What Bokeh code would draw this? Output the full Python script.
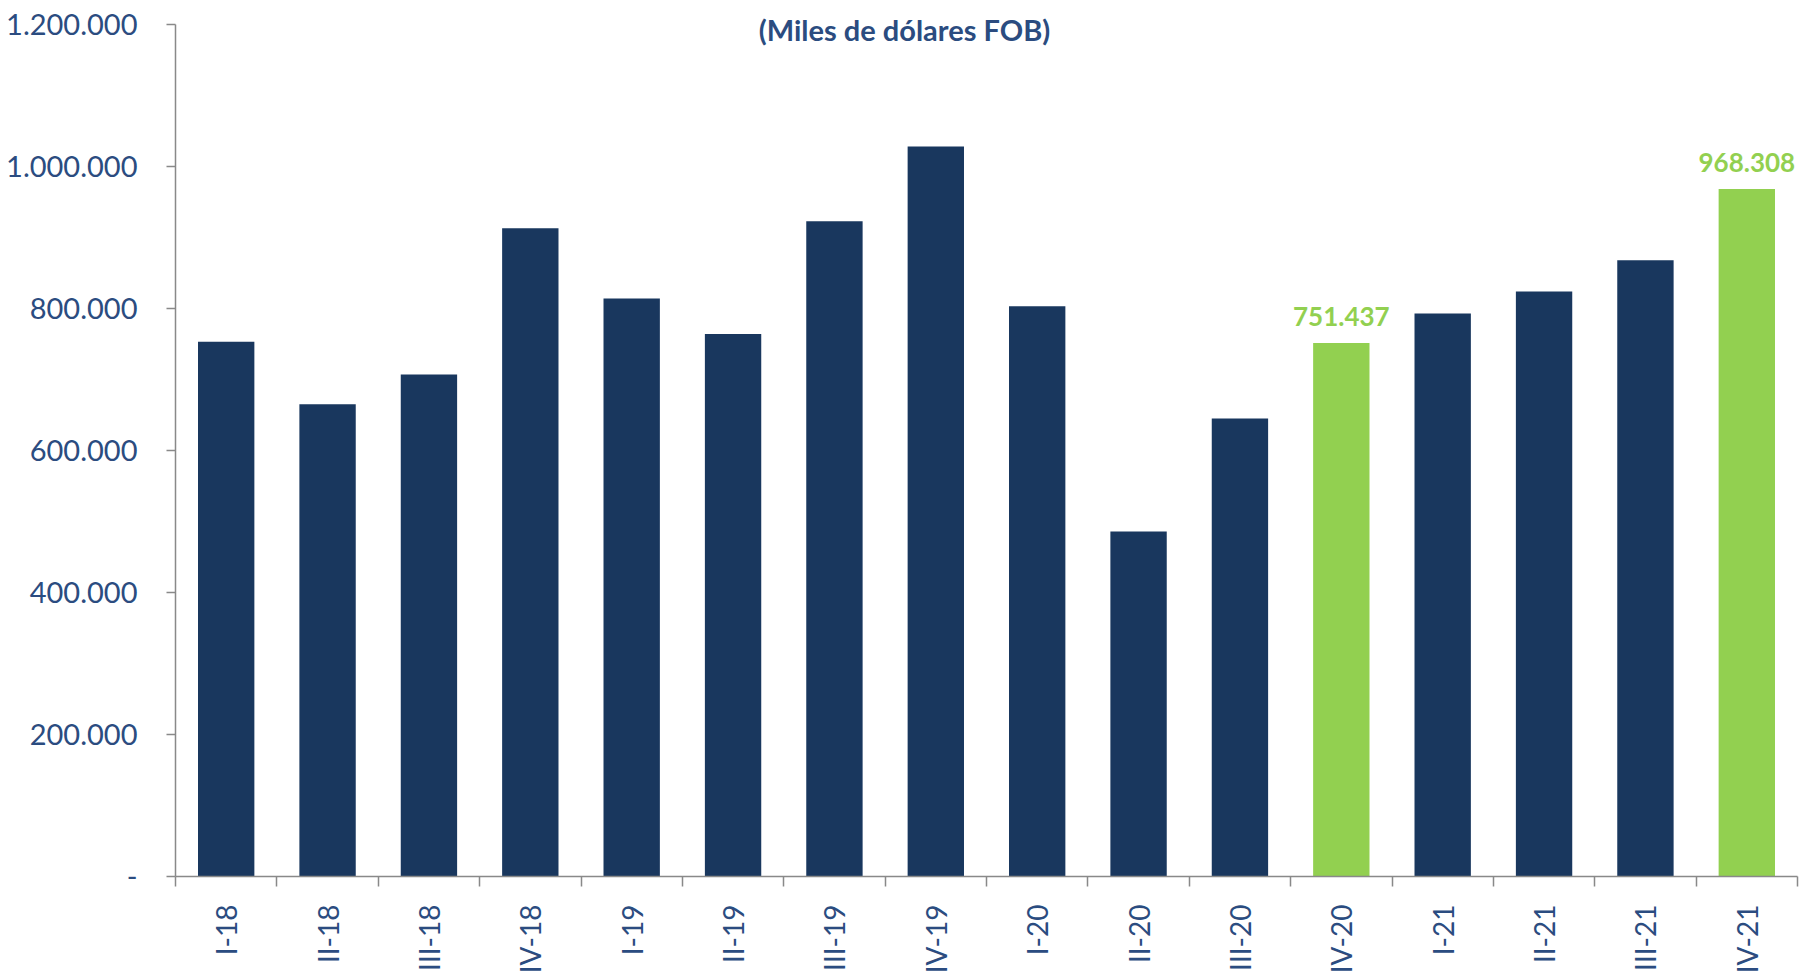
from bokeh.plotting import figure
from bokeh.models import ColumnDataSource, FixedTicker, Range1d, Label, LabelSet
from bokeh.core.properties import value
from bokeh.embed import file_html
from bokeh.resources import INLINE
import math

categories = ["I-18", "II-18", "III-18", "IV-18", "I-19", "II-19", "III-19", "IV-19",
              "I-20", "II-20", "III-20", "IV-20", "I-21", "II-21", "III-21", "IV-21"]
values = [753000, 665000, 707000, 913000, 814000, 764000, 923000, 1028000,
          803000, 486000, 645000, 751437, 793000, 824000, 868000, 968308]
highlighted = ["IV-20", "IV-21"]
y_ticks = [0, 200000, 400000, 600000, 800000, 1000000, 1200000]
title_text = "(Miles de dólares FOB)"

NAVY = "#19375E"
GREEN = "#92D050"
TEXT = "#2B4C80"
AXIS = "#898989"
FONT = "Lato"

n = len(categories)
ymax = y_ticks[-1]
xs = [i + 0.5 for i in range(n)]
colors = [GREEN if c in highlighted else NAVY for c in categories]
src = ColumnDataSource(dict(x=xs, top=values, color=colors, cat=categories))

def fmt(v):
    return "-" if v == 0 else f"{v:,}".replace(",", ".")

# canvas layout (pixels): plot area from x0..x1, y top..zero
W, H = 1800, 972
PX_LEFT, PX_RIGHT = 175.0, 1797.0
PX_TOP, PX_ZERO = 24.0, 876.0
kx = (PX_RIGHT - PX_LEFT) / n
ky = (PX_ZERO - PX_TOP) / ymax
x_range = Range1d(-PX_LEFT / kx, (W - PX_LEFT) / kx)
y_range = Range1d(-(H - PX_ZERO) / ky, PX_ZERO / ky)

p = figure(width=W, height=H, output_backend="svg", toolbar_location=None,
           x_range=x_range, y_range=y_range,
           min_border_left=0, min_border_right=0, min_border_top=0, min_border_bottom=0)
p.outline_line_color = None
p.grid.grid_line_color = None
p.background_fill_color = "white"

p.vbar(x="x", top="top", width=0.556, bottom=0, color="color", line_color=None, source=src)

hl_idx = [i for i, c in enumerate(categories) if c in highlighted]
lab_src = ColumnDataSource(dict(x=[xs[i] for i in hl_idx], y=[values[i] for i in hl_idx],
                                t=[fmt(values[i]) for i in hl_idx]))
p.add_layout(LabelSet(x="x", y="y", text="t", source=lab_src, y_offset=17,
                      text_align="center", text_baseline="bottom",
                      text_font=value(FONT), text_font_size="26px", text_font_style="bold",
                      text_color=GREEN))

title_x = (904 - PX_LEFT) / kx
title_y = (PX_ZERO - 29) / ky
p.add_layout(Label(x=title_x, y=title_y, text=title_text, text_align="center",
                   text_baseline="middle", text_font=FONT, text_font_size="29px",
                   text_font_style="bold", text_color=TEXT))

# x axis
xa = p.xaxis[0]
xa.fixed_location = 0
xa.bounds = (0, n)
xa.ticker = FixedTicker(ticks=xs, minor_ticks=list(range(n + 1)))
xa.major_label_overrides = {x: c for x, c in zip(xs, categories)}
xa.major_label_orientation = math.pi / 2
xa.major_tick_out = 0
xa.major_tick_in = 0
xa.minor_tick_out = 10
xa.minor_tick_in = 0
xa.minor_tick_line_color = AXIS
xa.minor_tick_line_width = 1.5
xa.axis_line_color = AXIS
xa.axis_line_width = 1.5
xa.major_label_standoff = 18
xa.major_label_text_font = FONT
xa.major_label_text_font_size = "28px"
xa.major_label_text_color = TEXT

# y axis
ya = p.yaxis[0]
ya.fixed_location = 0
ya.bounds = (0, ymax)
ya.ticker = FixedTicker(ticks=y_ticks, minor_ticks=[])
ya.major_label_overrides = {t: fmt(t) for t in y_ticks}
ya.major_tick_out = 9
ya.major_tick_in = 0
ya.major_tick_line_color = AXIS
ya.major_tick_line_width = 1.5
ya.axis_line_color = AXIS
ya.axis_line_width = 1.5
ya.major_label_standoff = 29
ya.major_label_text_font = FONT
ya.major_label_text_font_size = "29px"
ya.major_label_text_color = TEXT

open("out.html", "w").write(file_html(p, INLINE))
